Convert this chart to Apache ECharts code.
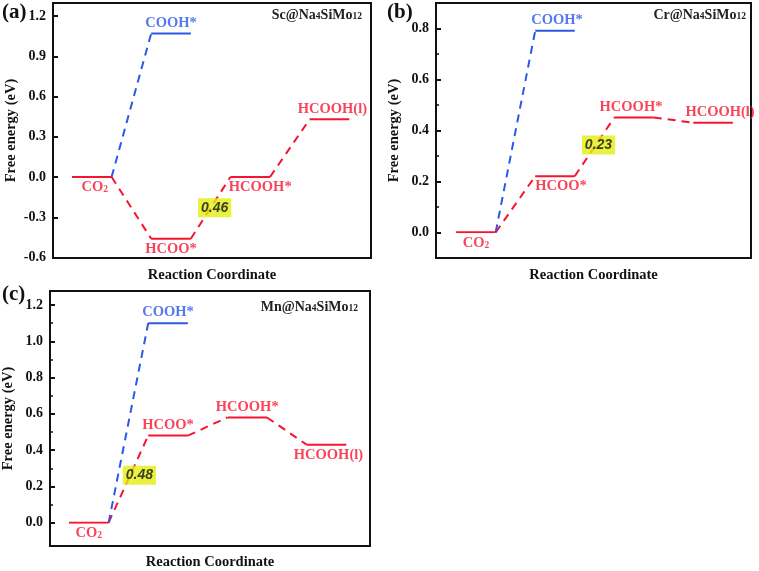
<!DOCTYPE html>
<html>
<head>
<meta charset="utf-8">
<script src="https://cdn.jsdelivr.net/npm/echarts@6/dist/echarts.min.js"></script>
<style>
html,body{margin:0;padding:0;background:#fff;}
#chart{width:759px;height:571px;}
</style>
</head>
<body>
<div id="chart"></div>
<script>
// ---- data ----
const species = ['CO{s|2}', 'COOH*', 'HCOO*', 'HCOOH*', 'HCOOH(l)'];
const speciesStep = [0, 1, 1, 2, 3];
const energyA = [0, 1.07, -0.46, 0, 0.43];
const energyB = [0, 0.79, 0.22, 0.45, 0.43];
const energyC = [0, 1.10, 0.48, 0.58, 0.43];
const pathRed = [0, 2, 3, 4];
const pathBlue = [0, 1];
const catalysts = ['Sc@Na{s|4}SiMo{s|12}', 'Cr@Na{s|4}SiMo{s|12}', 'Mn@Na{s|4}SiMo{s|12}'];
const panelLetters = ['(a)', '(b)', '(c)'];
const barrierLabels = ['0.46', '0.23', '0.48'];
const barrierFrom = [2, 2, 0];
const barrierTo = [3, 3, 2];
const yTicksA = { min: -0.6, max: 1.2, interval: 0.3 };
const yTicksB = { min: 0, max: 0.8, interval: 0.2 };
const yTicksC = { min: 0, max: 1.2, interval: 0.2 };
const xTitle = 'Reaction Coordinate';
const yTitle = 'Free energy (eV)';

// ---- styles / layout ----
const RED = '#f6142f', BLUE = '#2b58e6';
const SERIF = '"Liberation Serif","Times New Roman",serif';
const SANS = '"Liberation Sans",Arial,sans-serif';
const energies = [energyA, energyB, energyC];
const yTicks = [yTicksA, yTicksB, yTicksC];
const minor = [false, true, true];
const frames = [
  { left: 53, top: 3, width: 318, height: 255 },
  { left: 436, top: 3, width: 315, height: 255 },
  { left: 50, top: 291, width: 320, height: 256 }
];
const dataGrids = [
  { left: 53, top: 16, width: 318, height: 241.5 },
  { left: 436, top: 28.3, width: 315, height: 204 },
  { left: 50, top: 305, width: 320, height: 217.7 }
];
const xRange = [[-0.48, 7.55], [-0.51, 7.46], [-0.48, 7.6]];
// label placement per panel per species: [position, dx]
const labelPlace = [
  [['bottom', 3], ['top', 0], ['bottom', 0], ['bottom', 10], ['top', 3]],
  [['bottom', 0], ['top', 2], ['bottom', 6], ['top', -3], ['top', 7]],
  [['bottom', 0], ['top', 0], ['top', 0], ['top', 0], ['bottom', 2]]
];
const barrierOffset = [[4, 0], [4, -2], [11, -4]];
const titleRight = [397, 13, 401];
const titleTop = [8, 8, 300];
const letterPos = [[2, 2], [387, 2], [2, 284]];

const subRich = (color) => ({
  s: { fontSize: 9.5, fontWeight: 'bold', fontFamily: SERIF, color: color, verticalAlign: 'bottom', lineHeight: 14, padding: [3, 0, 0, 0] }
});

const grid = [], xAxis = [], yAxis = [], series = [], title = [];
frames.forEach((f, p) => {
  grid.push(Object.assign({ show: true, borderColor: '#111', borderWidth: 2, backgroundColor: 'transparent' }, f));
  xAxis.push({ type: 'value', gridIndex: p, min: 0, max: 1, axisLine: { show: false }, axisTick: { show: false },
    axisLabel: { show: false }, splitLine: { show: false },
    name: xTitle, nameLocation: 'middle', nameGap: p === 2 ? 9 : 10,
    nameTextStyle: { fontFamily: SERIF, fontWeight: 'bold', fontSize: 14.5, color: '#111' } });
  yAxis.push({ type: 'value', gridIndex: p, min: 0, max: 1, axisLine: { show: false }, axisTick: { show: false },
    axisLabel: { show: false }, splitLine: { show: false },
    name: yTitle, nameLocation: 'middle', nameGap: 34, nameRotate: 90,
    nameTextStyle: { fontFamily: SERIF, fontWeight: 'bold', fontSize: 14.5, color: '#111' } });
  series.push({ type: 'line', xAxisIndex: p, yAxisIndex: p, data: [], silent: true });
});
dataGrids.forEach((g, p) => {
  const gi = grid.length;
  grid.push(Object.assign({ show: false }, g));
  xAxis.push({ type: 'value', gridIndex: gi, min: xRange[p][0], max: xRange[p][1], show: false,
    axisLine: { onZero: false } });
  yAxis.push({ type: 'value', gridIndex: gi, min: yTicks[p].min, max: yTicks[p].max, interval: yTicks[p].interval,
    position: 'left',
    axisLine: { show: false, onZero: false }, splitLine: { show: false },
    axisTick: { show: true, inside: true, length: 5, lineStyle: { color: '#111', width: 2 } },
    minorTick: { show: minor[p], splitNumber: 2, length: 3, lineStyle: { color: '#111', width: 1.5 } },
    axisLabel: { margin: 7, fontFamily: SERIF, fontWeight: 'bold', fontSize: 14, color: '#111',
      formatter: v => v.toFixed(1) } });
  const E = energies[p];
  // levels
  species.forEach((sp, i) => {
    const s = speciesStep[i];
    const color = i === 1 ? BLUE : RED;
    series.push({ type: 'line', xAxisIndex: gi, yAxisIndex: gi, symbol: 'none', silent: true, z: 3,
      lineStyle: { color: color, width: 2 }, data: [[2 * s, E[i]], [2 * s + 1, E[i]]] });
    const lp = labelPlace[p][i];
    series.push({ type: 'scatter', xAxisIndex: gi, yAxisIndex: gi, symbolSize: 0, silent: true, z: 5,
      data: [[2 * s + 0.5, E[i]]],
      label: { show: true, position: lp[0], distance: 3, offset: [lp[1], 0], formatter: sp,
        fontFamily: SERIF, fontWeight: 'bold', fontSize: 14.5, color: color, rich: subRich(color) } });
  });
  // connectors
  [[pathRed, RED], [pathBlue, BLUE]].forEach(([path, color]) => {
    for (let k = 0; k < path.length - 1; k++) {
      const a = path[k], b = path[k + 1];
      series.push({ type: 'line', xAxisIndex: gi, yAxisIndex: gi, symbol: 'none', silent: true, z: 2,
        lineStyle: { color: color, width: 2, type: [8, 6] },
        data: [[2 * speciesStep[a] + 1, E[a]], [2 * speciesStep[b], E[b]]] });
    }
  });
  // barrier label
  const a = barrierFrom[p], b = barrierTo[p];
  const mx = (2 * speciesStep[a] + 1 + 2 * speciesStep[b]) / 2;
  const my = (E[a] + E[b]) / 2;
  series.push({ type: 'scatter', xAxisIndex: gi, yAxisIndex: gi, symbolSize: 0, silent: true, z: 10,
    data: [[mx, my]],
    label: { show: true, position: 'inside', offset: barrierOffset[p], formatter: barrierLabels[p],
      fontFamily: SANS, fontWeight: 'bold', fontStyle: 'italic', fontSize: 14, color: '#111',
      backgroundColor: '#e4ee12', padding: [3, 3, 2, 3] } });
  // titles
  title.push({ text: catalysts[p], right: titleRight[p], top: titleTop[p], padding: 0,
    textStyle: { fontFamily: SERIF, fontWeight: 'bold', fontSize: 14, color: '#222', rich: subRich('#222') } });
  title.push({ text: panelLetters[p], left: letterPos[p][0], top: letterPos[p][1], padding: 0,
    textStyle: { fontFamily: SERIF, fontWeight: 'bold', fontSize: 21, color: '#111' } });
});

const chart = echarts.init(document.getElementById('chart'), null, { renderer: 'canvas' });
chart.setOption({ animation: false, backgroundColor: '#fff', title, grid, xAxis, yAxis, series });
</script>
</body>
</html>
